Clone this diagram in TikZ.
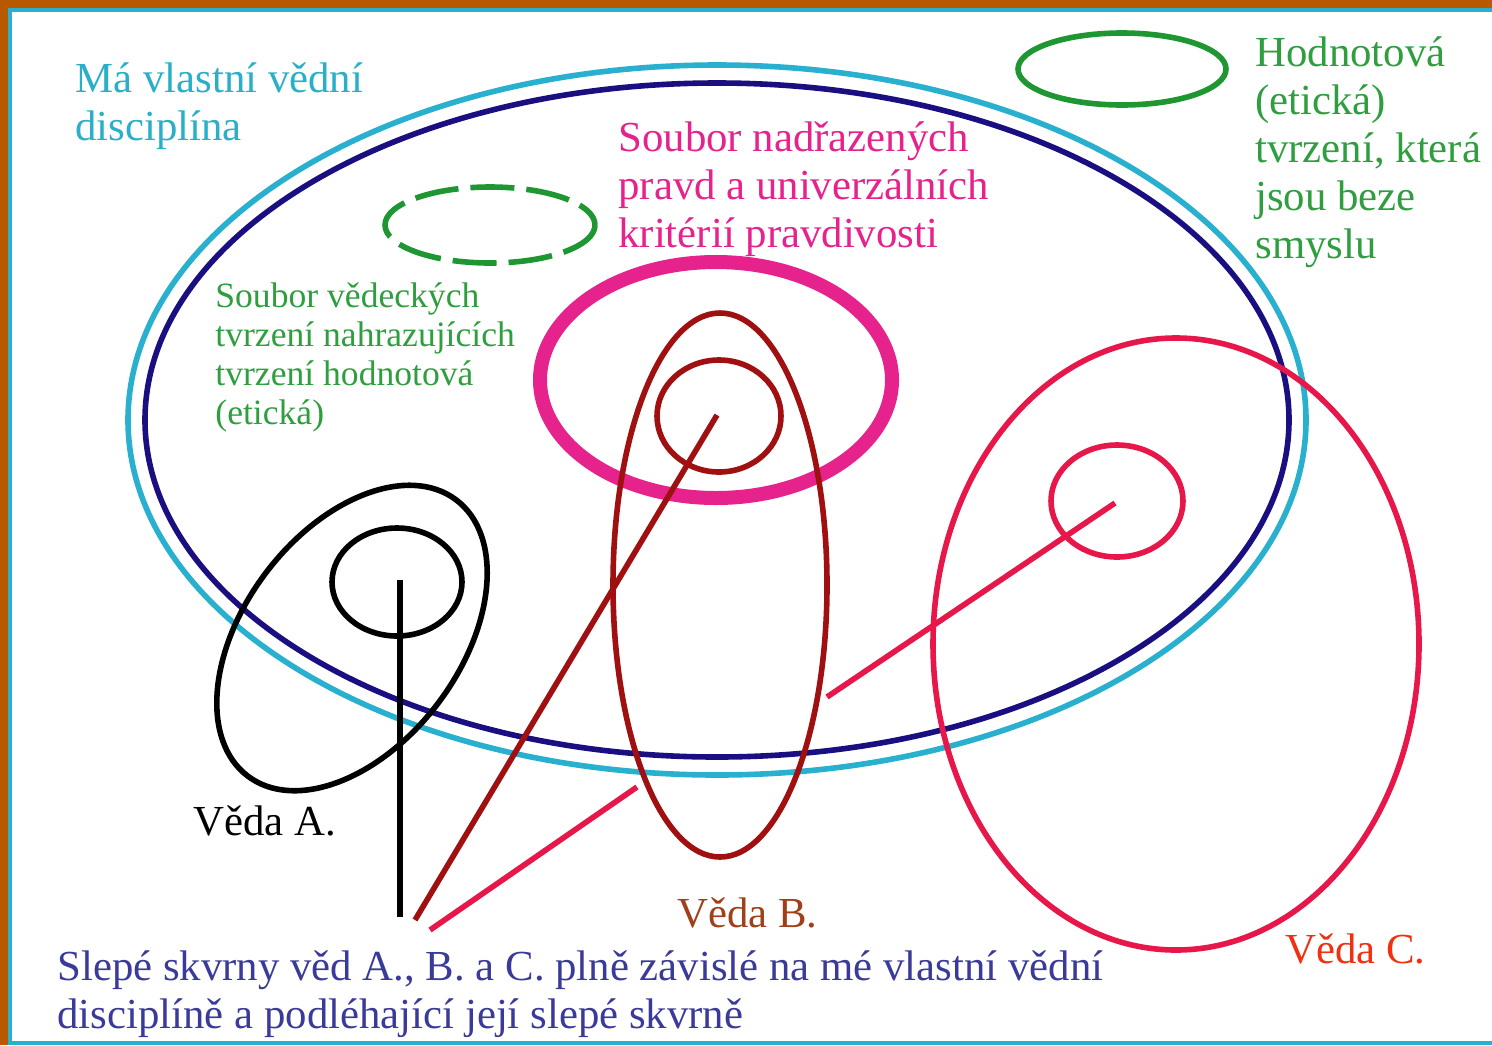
\documentclass[tikz,border=0pt]{standalone}
\usepackage{fontspec}
\setmainfont{Liberation Serif}
\usepackage{tikz}

\definecolor{frameor}{RGB}{184,88,0}
\definecolor{cyanl}{RGB}{41,176,207}
\definecolor{navyl}{RGB}{26,15,128}
\definecolor{greenl}{RGB}{30,150,50}
\definecolor{magl}{RGB}{230,34,140}
\definecolor{darkredl}{RGB}{160,16,16}
\definecolor{crimsonl}{RGB}{232,23,74}
\definecolor{cyant}{RGB}{42,175,200}
\definecolor{greent}{RGB}{46,158,62}
\definecolor{brownt}{RGB}{160,64,26}
\definecolor{redt}{RGB}{240,48,16}
\definecolor{navyt}{RGB}{58,58,154}

\tikzset{
  ring/.style = {line width=2.8pt},
  lbl/.style = {inner sep=0pt, align=left, font=\fontsize{21.4}{24}\selectfont},
  lblsmall/.style = {inner sep=0pt, align=left, font=\fontsize{17.8}{19.5}\selectfont}
}

\begin{document}
\begin{tikzpicture}[x=0.5pt, y=-0.5pt]
\useasboundingbox (0,0) rectangle (1492,1045);
% frame
\fill [frameor] (0,0) rectangle (1492,8);
\fill [frameor] (0,0) rectangle (8,1045);
\draw [cyanl, line width=2.2pt] (10,1045) -- (10,10) -- (1492,10);
\draw [cyanl, line width=2pt] (10,1043) -- (1492,1043);

% own discipline
\draw [ring, cyanl] (717,420) ellipse (589 and 355);
\draw [ring, navyl] (717,420) ellipse (572 and 337);
\draw [line width=7pt, magl] (716,380) ellipse (176 and 118);
\draw [ring, greenl] (1122,69) ellipse (104 and 36);
\draw [ring, greenl, dash pattern=on 22pt off 6pt] (490,225) ellipse (105 and 38);

% science A
\coordinate (coreA) at (400,580);
\coordinate (blindA) at (400,917);
\draw [ring, black, rotate around={53:(352,638)}] (352,638) ellipse (173 and 108);
\draw [ring, black] (397,582) ellipse (65 and 54);
\draw [ring, black] (coreA) -- (blindA);

% science B
\coordinate (coreB) at (717,415);
\coordinate (blindB) at (415,920);
\draw [ring, darkredl] (720,585) ellipse (107 and 272);
\draw [ring, darkredl] (719,416) ellipse (62 and 56);
\draw [ring, darkredl] (coreB) -- (blindB);

% science C
\coordinate (coreC) at (1115,503);
\coordinate (midC) at (827,697);
\coordinate (gapC) at (637,787);
\coordinate (blindC) at (430,930);
\draw [ring, crimsonl] (1176,644) ellipse (243 and 306);
\draw [ring, crimsonl] (1117,501) ellipse (66 and 56);
\draw [ring, crimsonl] (coreC) -- (midC);
\draw [ring, crimsonl] (gapC) -- (blindC);

% labels
\node (own) [lbl, cyant, anchor=north west] at (75,62) {Má vlastní vědní\\disciplína};
\node (upper) [lbl, magl, anchor=north west] at (618,121) {Soubor nadřazených\\pravd a univerzálních\\kritérií pravdivosti};
\node (valueless) [lbl, greent, anchor=north west] at (1255,36) {Hodnotová\\(etická)\\tvrzení, která\\jsou beze\\smyslu};
\node (replace) [lblsmall, greent, anchor=north west] at (215,282) {Soubor vědeckých\\tvrzení nahrazujících\\tvrzení hodnotová\\(etická)};
\node (vedaA) [lbl, black, anchor=base west] at (193,835) {Věda A.};
\node (vedaB) [lbl, brownt, anchor=base west] at (677,927) {Věda B.};
\node (vedaC) [lbl, redt, anchor=base west] at (1285,963) {Věda C.};
\node (blind) [lbl, navyt, anchor=north west] at (57,950) {Slepé skvrny věd A., B. a C. plně závislé na mé vlastní vědní\\disciplíně a podléhající její slepé skvrně};
\end{tikzpicture}
\end{document}
